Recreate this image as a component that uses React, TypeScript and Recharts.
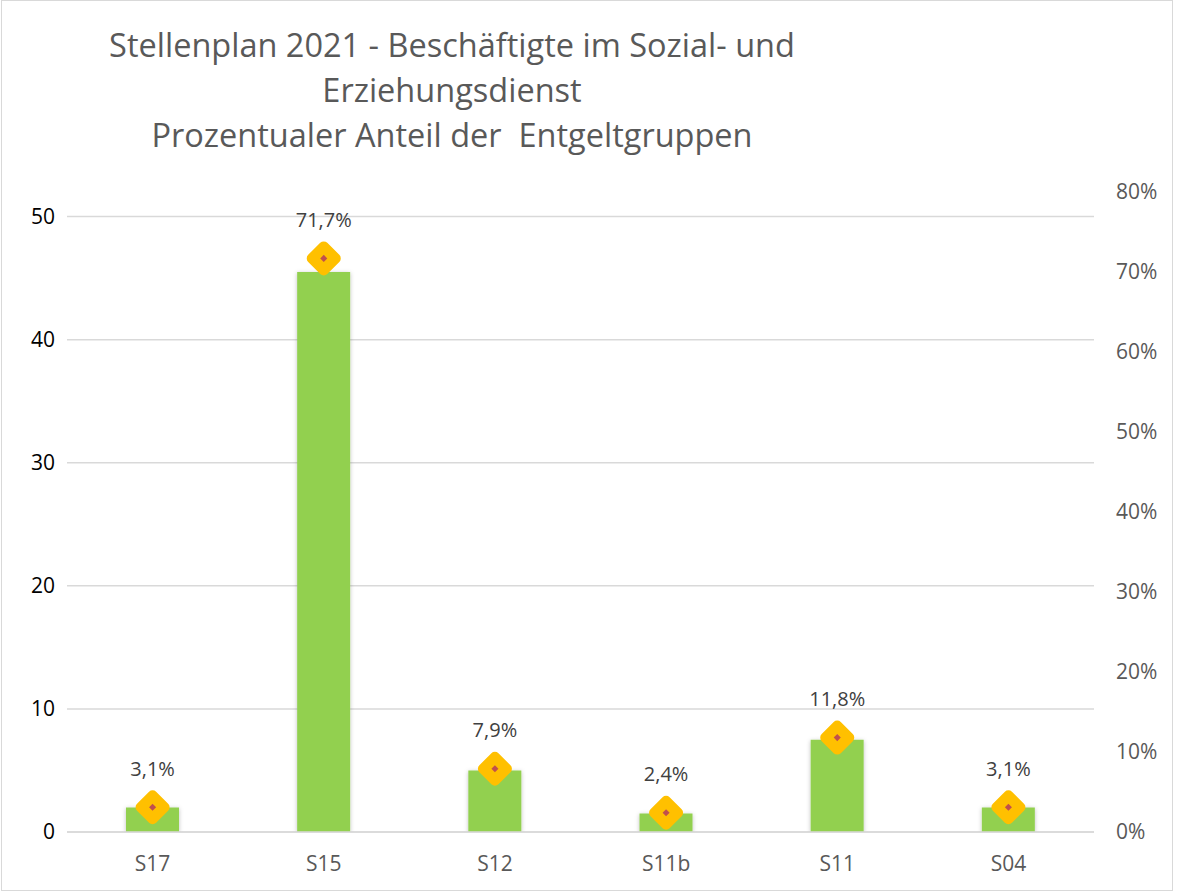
import React from "react";
import {
  ComposedChart,
  Bar,
  Line,
  XAxis,
  YAxis,
  CartesianGrid,
  LabelList,
} from "recharts";

const categories = ["S17", "S15", "S12", "S11b", "S11", "S04"];
const employees = [2, 45.5, 5, 1.5, 7.5, 2];
const shares = [0.031, 0.717, 0.079, 0.024, 0.118, 0.031];
const leftTicks = [0, 10, 20, 30, 40, 50];
const rightTicks = [0, 0.1, 0.2, 0.3, 0.4, 0.5, 0.6, 0.7, 0.8];

const titleLines = [
  "Stellenplan 2021 - Beschäftigte im Sozial- und",
  "Erziehungsdienst",
  "Prozentualer Anteil der  Entgeltgruppen",
];

const FONT = "'Open Sans', sans-serif";

const chartData = categories.map((name, i) => ({
  name,
  employees: employees[i],
  share: shares[i],
}));

const formatPct = (v: number) => (v * 100).toFixed(1).replace(".", ",") + "%";
const formatAxisPct = (v: number) => Math.round(v * 100) + "%";

function DiamondDot(props: any) {
  const { cx, cy } = props;
  if (cx == null || cy == null) return null;
  return (
    <g>
      <rect
        x={cx - 13.5}
        y={cy - 13.5}
        width={27}
        height={27}
        rx={5}
        ry={5}
        fill="#FFC000"
        transform={`rotate(45 ${cx} ${cy})`}
      />
      <rect
        x={cx - 2.5}
        y={cy - 2.5}
        width={5}
        height={5}
        fill="#C0504D"
        transform={`rotate(45 ${cx} ${cy})`}
      />
    </g>
  );
}

function ShareLabel(props: any) {
  const { x, y, value } = props;
  return (
    <text
      x={x}
      y={y - 37}
      textAnchor="middle"
      dominantBaseline="middle"
      fontSize={20}
      fill="#404040"
      fontFamily={FONT}
    >
      {formatPct(value)}
    </text>
  );
}

export default function App() {
  return (
    <div
      style={{
        position: "absolute",
        left: 0,
        top: 0,
        width: 1178,
        height: 895,
        background: "#fff",
        fontFamily: FONT,
      }}
    >
      <svg width={0} height={0} style={{ position: "absolute" }}>
        <defs>
          <filter id="barShadow" x="-20%" y="-20%" width="140%" height="140%">
            <feDropShadow dx="0" dy="1" stdDeviation="2" floodColor="#000" floodOpacity="0.25" />
          </filter>
        </defs>
      </svg>
      <div
        style={{
          position: "absolute",
          left: 1,
          top: 0,
          width: 1172,
          height: 891,
          border: "1px solid #D9D9D9",
          boxSizing: "border-box",
        }}
      />
      <div
        style={{
          position: "absolute",
          left: 252,
          top: 22,
          width: 400,
          textAlign: "center",
          fontSize: 32.5,
          lineHeight: "45px",
          color: "#595959",
          whiteSpace: "pre",
          display: "flex",
          flexDirection: "column",
          alignItems: "center",
        }}
      >
        {titleLines.map((t) => (
          <div key={t}>{t}</div>
        ))}
      </div>
      <ComposedChart
        width={1178}
        height={895}
        data={chartData}
        margin={{ top: 192, right: 0, bottom: 0, left: 0 }}
        style={{ position: "absolute", left: 0, top: 0 }}
      >
        <CartesianGrid
          yAxisId="left"
          vertical={false}
          horizontalValues={leftTicks}
          stroke="#D9D9D9"
          strokeWidth={1.5}
        />
        <XAxis
          dataKey="name"
          height={63}
          axisLine={{ stroke: "#D9D9D9", strokeWidth: 1.5 }}
          tickLine={false}
          tick={{ fontSize: 21, fill: "#595959", fontFamily: FONT }}
          tickMargin={18}
        />
        <YAxis
          yAxisId="left"
          orientation="left"
          width={67}
          domain={[0, 52]}
          ticks={leftTicks}
          axisLine={false}
          tickLine={false}
          tick={{ fontSize: 21, fill: "#000", fontFamily: FONT }}
          tickMargin={6}
          allowDataOverflow
        />
        <YAxis
          yAxisId="right"
          orientation="right"
          width={84}
          domain={[0, 0.8]}
          ticks={rightTicks}
          axisLine={false}
          tickLine={false}
          tickFormatter={formatAxisPct}
          tick={{ fontSize: 21, fill: "#595959", fontFamily: FONT, textAnchor: "start" }}
          tickMargin={16}
          allowDataOverflow
        />
        <Bar
          yAxisId="left"
          dataKey="employees"
          fill="#92D050"
          barSize={53}
          isAnimationActive={false}
          style={{ filter: "url(#barShadow)" }}
        />
        <Line
          yAxisId="right"
          dataKey="share"
          stroke="none"
          dot={<DiamondDot />}
          activeDot={false}
          isAnimationActive={false}
        >
          <LabelList dataKey="share" content={<ShareLabel />} />
        </Line>
      </ComposedChart>
    </div>
  );
}
